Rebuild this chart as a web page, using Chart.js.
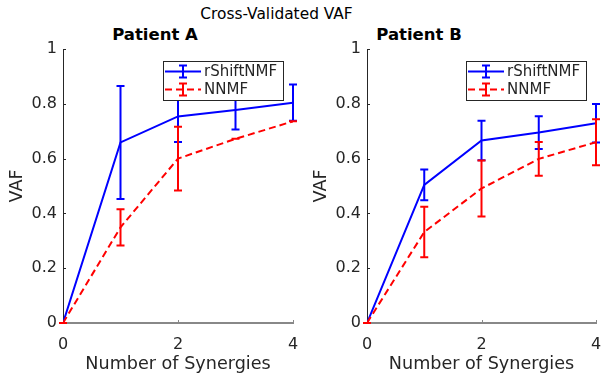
<!DOCTYPE html>
<html>
<head>
<meta charset="utf-8">
<script src="https://cdn.jsdelivr.net/npm/chart.js@4"></script>
<style>
    body { margin: 0; background: #fff; font-family: "DejaVu Sans", sans-serif; }
    #wrap { position: relative; width: 602px; height: 377px; overflow: hidden; }
    .ttl { position: absolute; text-align: center; white-space: nowrap; line-height: 1; color: #000; }
    canvas { position: absolute; top: 0; }
</style>
</head>
<body>
<div id="wrap">
    <div class="ttl" style="left:0;width:553px;top:7px;font-size:15.4px;">Cross-Validated VAF</div>
    <div class="ttl" style="left:0;width:310px;top:27px;font-size:16.5px;font-weight:bold;">Patient A</div>
    <div class="ttl" style="left:300px;width:238px;top:27px;font-size:16.5px;font-weight:bold;">Patient B</div>
    <canvas id="chartA" width="301" height="377" style="left:0"></canvas>
    <canvas id="chartB" width="301" height="377" style="left:301px"></canvas>
</div>
<script>
// number of synergies on x
const synergies = [0, 1, 2, 3, 4];
const seriesNames = ['rShiftNMF', 'NNMF'];

// Patient A
const shiftA = [0, 0.659, 0.754, 0.777, 0.804];
const shiftAErr = [0, 0.206, 0.093, 0.071, 0.066];
const nnmfA = [0, 0.349, 0.600, 0.672, 0.736];
const nnmfAErr = [0, 0.066, 0.116, 0, 0];

// Patient B
const shiftB = [0, 0.504, 0.666, 0.695, 0.729];
const shiftBErr = [0, 0.056, 0.072, 0.060, 0.070];
const nnmfB = [0, 0.332, 0.491, 0.599, 0.660];
const nnmfBErr = [0, 0.092, 0.102, 0.062, 0.084];

const xTicks = [0, 2, 4];
const yTicks = [0, 0.2, 0.4, 0.6, 0.8, 1];

const BLUE = '#0000ff';
const RED = '#ff0000';
const DASH = [7, 4];
const TXT = '#262626';

// error bars drawn right after each dataset's line
const errorBars = {
    id: 'errorBars',
    afterDatasetDraw(chart, args) {
        const ds = chart.data.datasets[args.index];
        if (!ds.errors) return;
        const ctx = chart.ctx;
        const xs = chart.scales.x, ys = chart.scales.y;
        ctx.save();
        ctx.strokeStyle = ds.borderColor;
        ctx.lineWidth = 2;
        ctx.setLineDash([]);
        ds.data.forEach((p, i) => {
            const e = ds.errors[i];
            const px = xs.getPixelForValue(p.x);
            const top = ys.getPixelForValue(p.y + e);
            const bot = ys.getPixelForValue(p.y - e);
            ctx.beginPath();
            ctx.moveTo(px, top); ctx.lineTo(px, bot);
            ctx.moveTo(px - 4, top); ctx.lineTo(px + 4, top);
            ctx.moveTo(px - 4, bot); ctx.lineTo(px + 4, bot);
            ctx.stroke();
        });
        ctx.restore();
    }
};

// inward tick marks, matlab style
const innerTicks = {
    id: 'innerTicks',
    beforeDatasetsDraw(chart) {
        const ctx = chart.ctx;
        const xs = chart.scales.x, ys = chart.scales.y;
        const a = chart.chartArea;
        ctx.save();
        ctx.strokeStyle = TXT;
        ctx.lineWidth = 1;
        yTicks.forEach(v => {
            const py = Math.round(ys.getPixelForValue(v)) + 0.5;
            ctx.beginPath(); ctx.moveTo(a.left, py); ctx.lineTo(a.left + 3, py); ctx.stroke();
        });
        ctx.strokeStyle = '#888';
        xTicks.forEach(v => {
            const px = Math.round(xs.getPixelForValue(v)) + 0.5;
            ctx.beginPath(); ctx.moveTo(px, a.bottom); ctx.lineTo(px, a.bottom - 3); ctx.stroke();
        });
        ctx.restore();
    }
};

// boxed legend inside the axes, top right
const boxLegend = {
    id: 'boxLegend',
    afterDraw(chart) {
        const ctx = chart.ctx;
        const a = chart.chartArea;
        const w = 120, h = 39;
        const x = a.right - 10 - w, y = a.top + 12;
        ctx.save();
        ctx.fillStyle = '#fff';
        ctx.fillRect(x, y, w, h);
        ctx.strokeStyle = TXT;
        ctx.lineWidth = 1;
        ctx.strokeRect(Math.round(x) + 0.5, Math.round(y) + 0.5, w, h);
        chart.data.datasets.slice().sort((p, q) => p.legendRow - q.legendRow).forEach((ds, i) => {
            const cy = y + 10.5 + i * 18;
            ctx.strokeStyle = ds.borderColor;
            ctx.lineWidth = 2;
            ctx.setLineDash(ds.borderDash || []);
            ctx.beginPath(); ctx.moveTo(x + 2, cy); ctx.lineTo(x + 38, cy); ctx.stroke();
            ctx.setLineDash([]);
            const cx = x + 20;
            ctx.beginPath();
            ctx.moveTo(cx, cy - 6); ctx.lineTo(cx, cy + 6);
            ctx.moveTo(cx - 4, cy - 6); ctx.lineTo(cx + 4, cy - 6);
            ctx.moveTo(cx - 4, cy + 6); ctx.lineTo(cx + 4, cy + 6);
            ctx.stroke();
            ctx.fillStyle = TXT;
            ctx.font = '15px "DejaVu Sans"';
            ctx.textBaseline = 'middle';
            ctx.fillText(ds.label, x + 41, cy + 1);
        });
        ctx.restore();
    }
};

function toPoints(vals) {
    return synergies.map((s, i) => ({ x: s, y: vals[i] }));
}

function makeChart(id, shift, shiftErr, nnmf, nnmfErr, yAxisWidth, rightPad, yTitlePad) {
    return new Chart(document.getElementById(id), {
        type: 'line',
        data: {
            datasets: [
                {
                    label: seriesNames[1],
                    data: toPoints(nnmf),
                    errors: nnmfErr,
                    borderColor: RED,
                    borderDash: DASH,
                    borderWidth: 2,
                    pointRadius: 0,
                    tension: 0,
                    fill: false,
                    legendRow: 1,
                    order: 0
                },
                {
                    label: seriesNames[0],
                    data: toPoints(shift),
                    errors: shiftErr,
                    borderColor: BLUE,
                    borderWidth: 2,
                    pointRadius: 0,
                    tension: 0,
                    fill: false,
                    legendRow: 0,
                    order: 1
                }
            ]
        },
        options: {
            responsive: false,
            animation: false,
            layout: { padding: { left: 0, right: rightPad, top: 49, bottom: 0 } },
            plugins: {
                legend: { display: false },
                tooltip: { enabled: false },
                title: { display: false }
            },
            scales: {
                x: {
                    type: 'linear',
                    min: 0, max: 4,
                    afterFit: s => { s.height = 54; s.paddingLeft = 0; s.paddingRight = 0; },
                    afterBuildTicks: s => { s.ticks = xTicks.map(v => ({ value: v })); },
                    grid: { drawOnChartArea: false, drawTicks: false },
                    border: { display: true, color: '#888', width: 2 },
                    ticks: {
                        color: TXT, padding: 12,
                        font: { family: 'DejaVu Sans', size: 16 },
                        callback: v => String(v)
                    },
                    title: {
                        display: true,
                        text: 'Number of Synergies',
                        color: TXT,
                        font: { family: 'DejaVu Sans', size: 17.6 },
                        padding: { top: 0, bottom: 2 }
                    }
                },
                y: {
                    type: 'linear',
                    min: 0, max: 1,
                    afterFit: s => { s.width = yAxisWidth; s.paddingTop = 0; s.paddingBottom = 0; },
                    afterBuildTicks: s => { s.ticks = yTicks.map(v => ({ value: v })); },
                    grid: { drawOnChartArea: false, drawTicks: false },
                    border: { display: true, color: TXT, width: 1 },
                    ticks: {
                        color: TXT, padding: 6,
                        font: { family: 'DejaVu Sans', size: 16 },
                        callback: v => String(v)
                    },
                    title: {
                        display: true,
                        text: 'VAF',
                        color: TXT,
                        font: { family: 'DejaVu Sans', size: 17.6 },
                        padding: { top: yTitlePad, bottom: 0 }
                    }
                }
            }
        },
        plugins: [innerTicks, errorBars, boxLegend]
    });
}

makeChart('chartA', shiftA, shiftAErr, nnmfA, nnmfAErr, 63, 8, 6.5);
makeChart('chartB', shiftB, shiftBErr, nnmfB, nnmfBErr, 66, 6, 9.5);
</script>
</body>
</html>
